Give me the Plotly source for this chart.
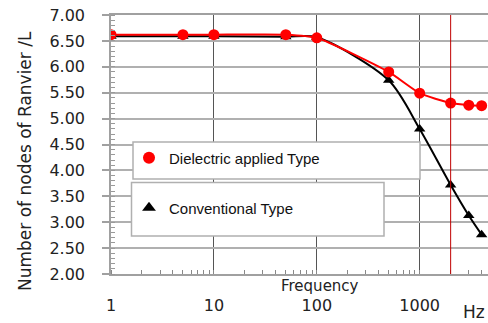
import math
import plotly.graph_objects as go

# Measured node counts per unit length versus stimulation frequency
freq_hz = [1, 5, 10, 50, 100, 500, 1000, 2000, 3000, 4000]
dielectric = [6.62, 6.62, 6.62, 6.62, 6.56, 5.90, 5.49, 5.30, 5.26, 5.25]
conventional = [6.59, 6.59, 6.59, 6.58, 6.57, 5.74, 4.80, 3.72, 3.13, 2.76]

name_dielectric = "Dielectric applied Type"
name_conventional = "Conventional Type"
marker_freq = 2000          # reference frequency highlighted by a vertical line
y_ticks = [2.0, 2.5, 3.0, 3.5, 4.0, 4.5, 5.0, 5.5, 6.0, 6.5, 7.0]
x_ticks = [1, 10, 100, 1000]

W, H = 488, 323
L, R, T, B = 111, 0, 15, 49
PW, PH = W - L - R, H - T - B


def px_x(p):
    return (p - L) / PW


def px_y(p):
    return (H - B - p) / PH


fig = go.Figure()

# Conventional type: smoothed black curve with triangle markers
fig.add_trace(go.Scatter(
    x=freq_hz, y=conventional, mode="lines", showlegend=False,
    line=dict(color="black", width=2, shape="spline", smoothing=0.8),
    hoverinfo="skip"))
fig.add_trace(go.Scatter(
    x=freq_hz, y=conventional, mode="markers", name=name_conventional,
    legend="legend2",
    marker=dict(symbol="triangle-up", size=10, color="black")))

# Dielectric applied type: red curve with circle markers
fig.add_trace(go.Scatter(
    x=freq_hz, y=dielectric, mode="lines", showlegend=False,
    line=dict(color="#ff0000", width=2, shape="spline", smoothing=0.5),
    hoverinfo="skip"))
fig.add_trace(go.Scatter(
    x=freq_hz, y=dielectric, mode="markers", name=name_dielectric,
    legend="legend",
    marker=dict(symbol="circle", size=11, color="#ff0000")))

x_max = math.log10(4613)

shapes = [
    # vertical marker line
    dict(type="line", xref="x", yref="paper", x0=marker_freq, x1=marker_freq,
         y0=0, y1=1, line=dict(color="#c00000", width=1), layer="above"),
    # legend frames
    dict(type="rect", xref="paper", yref="paper",
         x0=px_x(133), x1=px_x(420), y0=px_y(179), y1=px_y(142),
         fillcolor="white", line=dict(color="#b0b0b0", width=1.5), layer="above"),
    dict(type="rect", xref="paper", yref="paper",
         x0=px_x(131.5), x1=px_x(384), y0=px_y(236), y1=px_y(182.5),
         fillcolor="white", line=dict(color="#b0b0b0", width=1.5), layer="above"),
]

annotations = [
    dict(text="Number of nodes of Ranvier /L", textangle=-90,
         xref="paper", yref="paper", x=px_x(25), y=px_y(161),
         xanchor="center", yanchor="middle", showarrow=False,
         font=dict(family="DejaVu Sans", size=17, color="#222")),
    dict(text="Frequency", xref="paper", yref="paper",
         x=px_x(320), y=px_y(286), xanchor="center", yanchor="middle",
         showarrow=False, font=dict(family="DejaVu Sans", size=15, color="#222")),
    dict(text="Hz", xref="paper", yref="paper",
         x=px_x(474), y=px_y(312), xanchor="center", yanchor="middle",
         showarrow=False, font=dict(family="DejaVu Sans", size=17, color="#222")),
]

legend_style = dict(bgcolor="rgba(0,0,0,0)", borderwidth=0,
                    font=dict(family="Liberation Sans", size=15, color="#111"),
                    xanchor="left", yanchor="middle", itemsizing="constant")

fig.update_layout(
    width=W, height=H,
    margin=dict(l=L, r=R, t=T, b=B, pad=0),
    paper_bgcolor="white", plot_bgcolor="white",
    font=dict(family="DejaVu Sans", size=15, color="#222"),
    shapes=shapes, annotations=annotations,
    legend=dict(x=px_x(129), y=px_y(158), **legend_style),
    legend2=dict(x=px_x(129), y=px_y(208), **legend_style),
)

fig.update_xaxes(
    type="log", range=[0, x_max],
    tickvals=x_ticks, ticktext=[str(v) for v in x_ticks],
    ticks="", ticklabelstandoff=16,
    showgrid=True, gridcolor="#555555", gridwidth=1,
    showline=True, linecolor="#a0a0a0", linewidth=1.5, mirror=True,
    zeroline=False,
    minor=dict(ticks="inside", ticklen=4, tickcolor="#888888",
               tickwidth=1, dtick="D1", showgrid=False),
    tickfont=dict(family="DejaVu Sans", size=16, color="#222"),
)

fig.update_yaxes(
    range=[2.0, 7.0], tickvals=y_ticks,
    ticktext=[f"{v:.2f}" for v in y_ticks],
    ticks="outside", ticklen=7, tickcolor="#a0a0a0", tickwidth=1.5,
    ticklabelstandoff=14,
    showgrid=True, gridcolor="#b0b0b0", gridwidth=1.5,
    showline=True, linecolor="#a0a0a0", linewidth=1.5, mirror=False,
    zeroline=False,
    minor=dict(ticks="inside", ticklen=4, tickcolor="#999999",
               tickwidth=1, dtick=0.1, showgrid=False),
    tickfont=dict(family="DejaVu Sans", size=16, color="#222"),
)

fig.write_html("out.html")
